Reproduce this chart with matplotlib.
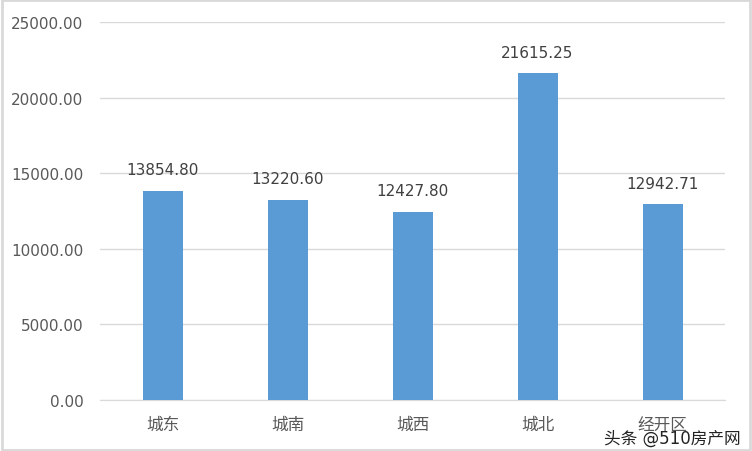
import matplotlib.pyplot as plt
from matplotlib.patches import Rectangle

# 数据
areas = ['城东', '城南', '城西', '城北', '经开区']
prices = [13854.80, 13220.60, 12427.80, 21615.25, 12942.71]
yticks = [0, 5000, 10000, 15000, 20000, 25000]

fonts = ['DejaVu Sans', 'Noto Sans CJK SC']
plt.rcParams['font.family'] = fonts

fig = plt.figure(figsize=(7.52, 4.52), dpi=100)
ax = fig.add_axes([100 / 752, 51 / 452, 625 / 752, 378 / 452])

x = range(len(areas))
bars = ax.bar(x, prices, width=0.32, color='#5B9BD5', zorder=3)

for xi, v in zip(x, prices):
    ax.text(xi, v + 900, f'{v:.2f}', ha='center', va='bottom',
            fontsize=11, color='#404040')

ax.set_xlim(-0.5, len(areas) - 0.5)
ax.set_ylim(0, 25000)
ax.set_yticks(yticks)
ax.set_yticklabels([f'{t:.2f}' for t in yticks], fontsize=11, color='#595959')
ax.set_xticks(list(x))
ax.set_xticklabels(areas, fontsize=12, color='#595959')
ax.tick_params(length=0, pad=12)
ax.tick_params(axis='x', pad=11)
ax.grid(axis='y', color='#D9D9D9', linewidth=1, zorder=0)
for s in ['top', 'right', 'left']:
    ax.spines[s].set_visible(False)
ax.spines['bottom'].set_color('#D9D9D9')

# 外框
fig.patches.append(Rectangle((0.002, 0.003), 0.996, 0.994, transform=fig.transFigure,
                             fill=False, edgecolor='#D9D9D9', linewidth=2))

# 水印
fig.text(0.985, 0.03, '头条 @510房产网', ha='right', va='center',
         fontsize=12, color='#222222')

fig.savefig('out.png', dpi=100)
